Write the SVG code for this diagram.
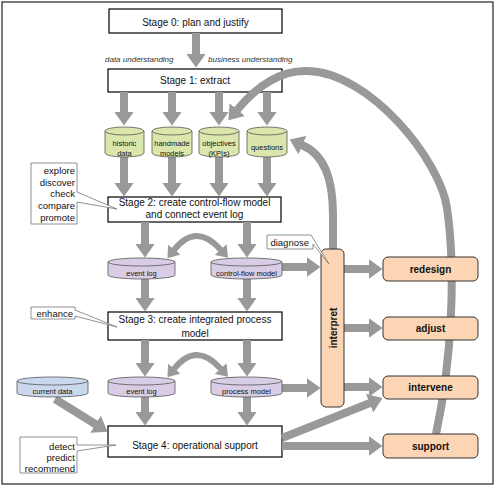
<svg xmlns="http://www.w3.org/2000/svg" width="496" height="488" viewBox="0 0 496 488">
<style>
text{font-family:"Liberation Sans",Arial,sans-serif;fill:#111}
.stage rect{fill:#fff;stroke:#000;stroke-width:1.2}
.st{font-size:10px;text-anchor:middle}
.cyl path,.cyl ellipse{stroke:#555;stroke-width:0.8}
.g path,.g ellipse{fill:#dbe6ad}
.p path,.p ellipse{fill:#d9cde6}
.b path,.b ellipse{fill:#c9d8ec}
.ct{font-size:7.5px;text-anchor:middle}
.act rect{fill:#fcd5b4;stroke:#333;stroke-width:1}
.at{font-size:10px;font-weight:bold;text-anchor:middle}
.note path{fill:#fff;stroke:#777;stroke-width:0.8}
.nt{font-size:9.5px;text-anchor:end}
.it{font-size:8px;font-style:italic;fill:#333}
.arr{stroke:#999;stroke-width:8;fill:none}
.arrs{stroke:#999;stroke-width:6;fill:none}
</style>
<defs>
<marker id="ah" markerUnits="userSpaceOnUse" viewBox="0 0 14 20" markerWidth="14" markerHeight="20" refX="0.5" refY="10" orient="auto"><path d="M0,0 L14,10 L0,20 z" fill="#999"/></marker>
<marker id="ahs" markerUnits="userSpaceOnUse" viewBox="0 0 11 16" markerWidth="11" markerHeight="16" refX="0.5" refY="8" orient="auto-start-reverse"><path d="M0,0 L11,8 L0,16 z" fill="#999"/></marker>
</defs>
<rect x="2" y="2" width="491" height="482" fill="#fff" stroke="#222" stroke-width="1.2"/>

<text class="it" x="105" y="62">data understanding</text>
<text class="it" x="208" y="62">business understanding</text>

<g id="stage0" class="stage"><rect x="109" y="9" width="173" height="24"/><text class="st" x="195.5" y="25.5">Stage 0: plan and justify</text></g>
<g id="stage1" class="stage"><rect x="108" y="69" width="174" height="23"/><text class="st" x="195" y="83.5">Stage 1: extract</text></g>
<g id="stage2" class="stage"><rect x="108" y="197" width="173" height="25"/><text class="st" x="194.5" y="205.5">Stage 2: create control-flow model</text><text class="st" x="194.5" y="217.5">and connect event log</text></g>
<g id="stage3" class="stage"><rect x="108" y="312" width="174" height="28"/><text class="st" x="195" y="322.5">Stage 3: create integrated process</text><text class="st" x="195" y="336.5">model</text></g>
<g id="stage4" class="stage"><rect x="108" y="426" width="174" height="31"/><text class="st" x="195" y="449">Stage 4: operational support</text></g>

<g id="connectors">
<line class="arr" x1="196" y1="33" x2="196" y2="54" marker-end="url(#ah)"/>
<line class="arr" x1="124" y1="92" x2="124" y2="112" marker-end="url(#ah)"/>
<line class="arr" x1="172" y1="92" x2="172" y2="112" marker-end="url(#ah)"/>
<line class="arr" x1="219" y1="92" x2="219" y2="112" marker-end="url(#ah)"/>
<line class="arr" x1="267" y1="92" x2="267" y2="112" marker-end="url(#ah)"/>
<line class="arr" x1="124" y1="157" x2="124" y2="183" marker-end="url(#ah)"/>
<line class="arr" x1="172" y1="157" x2="172" y2="183" marker-end="url(#ah)"/>
<line class="arr" x1="219" y1="157" x2="219" y2="183" marker-end="url(#ah)"/>
<line class="arr" x1="267" y1="157" x2="267" y2="183" marker-end="url(#ah)"/>
<line class="arr" x1="145" y1="222" x2="145" y2="244" marker-end="url(#ah)"/>
<line class="arr" x1="247" y1="222" x2="247" y2="244" marker-end="url(#ah)"/>
<line class="arr" x1="145" y1="279" x2="145" y2="298" marker-end="url(#ah)"/>
<line class="arr" x1="247" y1="279" x2="247" y2="298" marker-end="url(#ah)"/>
<line class="arr" x1="145" y1="340" x2="145" y2="363" marker-end="url(#ah)"/>
<line class="arr" x1="247" y1="340" x2="247" y2="363" marker-end="url(#ah)"/>
<line class="arr" x1="145" y1="397" x2="145" y2="412" marker-end="url(#ah)"/>
<line class="arr" x1="247" y1="397" x2="247" y2="412" marker-end="url(#ah)"/>
<line class="arr" x1="55" y1="399" x2="96" y2="424.5" marker-end="url(#ah)"/>
<path class="arrs" d="M174,250 Q196,222 221,250" marker-start="url(#ahs)" marker-end="url(#ahs)"/>
<path class="arrs" d="M174,369 Q196,341 221,369" marker-start="url(#ahs)" marker-end="url(#ahs)"/>
<line class="arr" x1="282" y1="267" x2="307" y2="267" marker-end="url(#ah)"/>
<line class="arr" x1="282" y1="388" x2="307" y2="388" marker-end="url(#ah)"/>
<line class="arr" x1="344" y1="269" x2="369" y2="269" marker-end="url(#ah)"/>
<line class="arr" x1="344" y1="328" x2="369" y2="328" marker-end="url(#ah)"/>
<line class="arr" x1="344" y1="387" x2="369" y2="387" marker-end="url(#ah)"/>
<line class="arr" x1="282" y1="446" x2="369" y2="446" marker-end="url(#ah)"/>
<line class="arr" x1="282" y1="438" x2="370" y2="403" marker-end="url(#ah)"/>
<path class="arr" d="M333,249 L333,215 C333,180 325,155 302,145" marker-end="url(#ah)"/>
<path class="arr" d="M436,434 C452,360 456,270 447,208 C440,160 370,72 307,71 C275,70 252,92 237,110" marker-end="url(#ah)"/>
</g>

<g id="historic" class="cyl g"><path d="M105,131 V153 A19.5,4 0 0 0 144,153 V131 Z"/><ellipse cx="124.5" cy="131" rx="19.5" ry="4"/><text class="ct" x="124.5" y="146">historic</text><text class="ct" x="124.5" y="155.5">data</text></g>
<g id="handmade" class="cyl g"><path d="M152,131 V153 A20,4 0 0 0 192,153 V131 Z"/><ellipse cx="172" cy="131" rx="20" ry="4"/><text class="ct" x="172" y="146">handmade</text><text class="ct" x="172" y="155.5">models</text></g>
<g id="objectives" class="cyl g"><path d="M199,131 V153 A20,4 0 0 0 239,153 V131 Z"/><ellipse cx="219" cy="131" rx="20" ry="4"/><text class="ct" x="219" y="146">objectives</text><text class="ct" x="219" y="155.5">(KPIs)</text></g>
<g id="questions" class="cyl g"><path d="M247,131 V153 A20,4 0 0 0 287,153 V131 Z"/><ellipse cx="267" cy="131" rx="20" ry="4"/><text class="ct" x="267" y="150">questions</text></g>

<g id="eventlog1" class="cyl p"><path d="M108,262 V275 A33.5,4 0 0 0 175,275 V262 Z"/><ellipse cx="141.5" cy="262" rx="33.5" ry="4"/><text class="ct" x="141.5" y="275.5">event log</text></g>
<g id="cfmodel" class="cyl p"><path d="M211,262 V275 A35.5,4 0 0 0 282,275 V262 Z"/><ellipse cx="246.5" cy="262" rx="35.5" ry="4"/><text class="ct" x="246.5" y="275.5">control-flow model</text></g>

<g id="currentdata" class="cyl b"><path d="M17,381 V393 A35.5,4 0 0 0 88,393 V381 Z"/><ellipse cx="52.5" cy="381" rx="35.5" ry="4"/><text class="ct" x="52.5" y="393.5">current data</text></g>
<g id="eventlog2" class="cyl p"><path d="M108,381 V393 A33.5,4 0 0 0 175,393 V381 Z"/><ellipse cx="141.5" cy="381" rx="33.5" ry="4"/><text class="ct" x="141.5" y="393.5">event log</text></g>
<g id="processmodel" class="cyl p"><path d="M211,381 V393 A35.5,4 0 0 0 282,393 V381 Z"/><ellipse cx="246.5" cy="381" rx="35.5" ry="4"/><text class="ct" x="246.5" y="393.5">process model</text></g>

<g id="interpret" class="act"><rect x="321" y="249" width="23" height="158" rx="5"/><text class="at" transform="translate(333,328) rotate(-90)" x="0" y="3.5">interpret</text></g>
<g id="redesign" class="act"><rect x="383" y="257" width="95" height="24" rx="5"/><text class="at" x="430.5" y="272.5">redesign</text></g>
<g id="adjust" class="act"><rect x="383" y="317" width="95" height="23" rx="5"/><text class="at" x="430.5" y="331.5">adjust</text></g>
<g id="intervene" class="act"><rect x="383" y="376" width="95" height="23" rx="5"/><text class="at" x="430.5" y="391">intervene</text></g>
<g id="support" class="act"><rect x="383" y="434" width="95" height="24" rx="5"/><text class="at" x="430.5" y="449.5">support</text></g>

<g id="note-explore" class="note"><path d="M31,163 H77 V192 L117,209 L77,202 V224 H31 Z"/><text class="nt" x="75" y="173.5">explore</text><text class="nt" x="75" y="185.5">discover</text><text class="nt" x="75" y="197">check</text><text class="nt" x="75" y="209">compare</text><text class="nt" x="75" y="221">promote</text></g>
<g id="note-enhance" class="note"><path d="M31,307 H75 V310 L117,327 L75,316 V319 H31 Z"/><text class="nt" x="73" y="316.5">enhance</text></g>
<g id="note-detect" class="note"><path d="M20,437 H77 V445 L116,445 L77,451 V473 H20 Z"/><text class="nt" x="75" y="449.5">detect</text><text class="nt" x="75" y="460.5">predict</text><text class="nt" x="75" y="471.5">recommend</text></g>
<g id="note-diagnose" class="note"><path d="M267,235 H311 L329,264 L313,244 V249 H267 Z"/><text class="nt" x="309" y="245.5">diagnose</text></g>
</svg>
